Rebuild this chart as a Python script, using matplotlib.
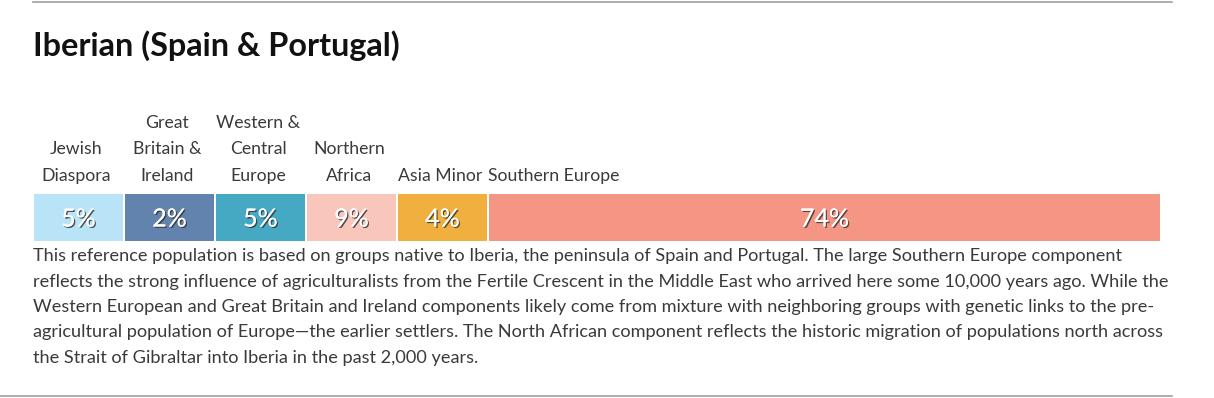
import matplotlib
matplotlib.use("Agg")
import matplotlib.pyplot as plt
import matplotlib.patheffects as pe

# Ancestry components for the Iberian reference population
COMPONENTS = [
    "Jewish\nDiaspora",
    "Great\nBritain &\nIreland",
    "Western &\nCentral\nEurope",
    "Northern\nAfrica",
    "Asia Minor",
    "Southern Europe",
]
PERCENTS = [5, 2, 5, 9, 4, 74]
COLORS = ["#b9e4f7", "#6183ad", "#46a9c4", "#f9c6bb", "#f1b03d", "#f59584"]

TITLE = "Iberian (Spain & Portugal)"
BODY = [
    "This reference population is based on groups native to Iberia, the peninsula of Spain and Portugal. The large Southern Europe component",
    "reflects the strong influence of agriculturalists from the Fertile Crescent in the Middle East who arrived here some 10,000 years ago. While the",
    "Western European and Great Britain and Ireland components likely come from mixture with neighboring groups with genetic links to the pre-",
    "agricultural population of Europe\u2014the earlier settlers. The North African component reflects the historic migration of populations north across",
    "the Strait of Gibraltar into Iberia in the past 2,000 years.",
]

W, H = 1214, 398
fig = plt.figure(figsize=(W / 100, H / 100), dpi=100)
ax = fig.add_axes([0, 0, 1, 1])
ax.set_xlim(0, W)
ax.set_ylim(H, 0)
ax.axis("off")

FONT = "Lato"
TEXT_C = "#3a3a3a"

# rules top and bottom
ax.plot([33, 1172], [2, 2], color="#a0a0a0", lw=1.2)
ax.plot([0, 1172], [396, 396], color="#a0a0a0", lw=1.2)

ax.text(33, 46, TITLE, fontsize=23.3, fontweight="bold", family=FONT,
        color="#111111", va="center", ha="left")

# segments: minor components get a fixed width, the largest fills the rest
bar_x0, bar_x1 = 34, 1160
seg_w, gap = 89, 2
lefts, widths = [], []
x = bar_x0
for i, p in enumerate(PERCENTS):
    w = seg_w if i < len(PERCENTS) - 1 else bar_x1 - x
    lefts.append(x)
    widths.append(w)
    x += w + gap

bar_y, bar_h = 217, 47
ax.barh(bar_y, widths, left=lefts, height=bar_h, color=COLORS, linewidth=0)

shadow = [pe.withSimplePatchShadow(offset=(1, -1), shadow_rgbFace="#333333", alpha=0.8), pe.Normal()]
for i, (name, p) in enumerate(zip(COMPONENTS, PERCENTS)):
    cx = lefts[i] + widths[i] / 2
    ax.text(cx, bar_y + 2, f"{p}%", fontsize=18, family=FONT, color="white",
            ha="center", va="center", path_effects=shadow)
    last = i == len(PERCENTS) - 1
    ax.text(lefts[i] - 1 if last else cx - 2, 184, name, fontsize=12.7, family=FONT,
            color=TEXT_C, ha="left" if last else "center", va="bottom",
            linespacing=1.82, multialignment="center")

for k, line in enumerate(BODY):
    ax.text(33, 256 + k * 25.5, line, fontsize=13.1, family=FONT, color=TEXT_C,
            ha="left", va="center")

fig.savefig("out.png", dpi=100)
